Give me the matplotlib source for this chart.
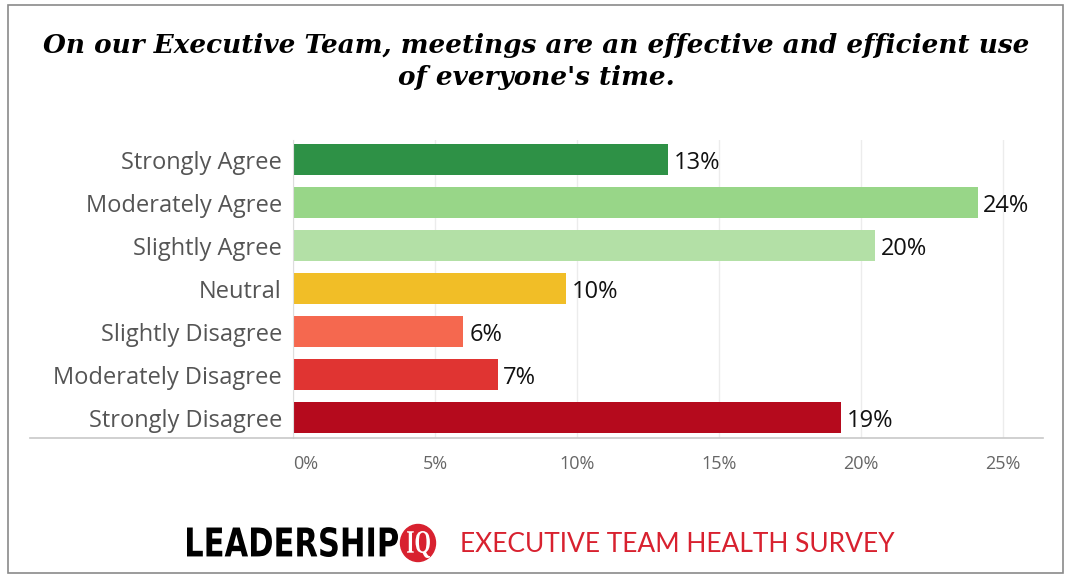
import matplotlib.pyplot as plt
from matplotlib.patches import Rectangle, Ellipse, PathPatch
from matplotlib.lines import Line2D
from matplotlib.textpath import TextPath
from matplotlib.font_manager import FontProperties
from matplotlib.transforms import Affine2D

categories = ['Strongly Agree', 'Moderately Agree', 'Slightly Agree', 'Neutral',
              'Slightly Disagree', 'Moderately Disagree', 'Strongly Disagree']
values = [13.2, 24.1, 20.5, 9.6, 6.0, 7.2, 19.3]
labels = ['13%', '24%', '20%', '10%', '6%', '7%', '19%']
colors = ['#2e9146', '#98d688', '#b3e0a6', '#f1be27', '#f5684f', '#e03432', '#b50a1d']
ticks = [0, 5, 10, 15, 20, 25]

W, H = 1070, 577
fig = plt.figure(figsize=(W / 100, H / 100), dpi=100)
fig.patch.set_facecolor('white')
to_fig = Affine2D().scale(1 / W, 1 / H) + fig.transFigure


def boxed_text(s, x0, x1, ytop, ybot, color, prop):
    # squeeze a text path into a pixel box (top-left origin)
    tp = TextPath((0, 0), s, size=1, prop=prop)
    bb = tp.get_extents()
    tr = (Affine2D().translate(-bb.x0, -bb.y0)
          .scale((x1 - x0) / bb.width, (ybot - ytop) / bb.height)
          .translate(x0, H - ybot) + to_fig)
    fig.add_artist(PathPatch(tp, transform=tr, color=color, lw=0))


# outer border
fig.add_artist(Rectangle((8 / W, 1 - 573 / H), 1055 / W, 568 / H, transform=fig.transFigure,
                         fill=False, edgecolor='#8a8a8a', linewidth=1.2))

fig.text(536 / W, 1 - 45 / H, 'On our Executive Team, meetings are an effective and efficient use',
         ha='center', va='center', fontsize=18.9, fontweight='bold', fontstyle='italic',
         family='DejaVu Serif', color='black')
fig.text(536 / W, 1 - 78 / H, "of everyone's time.",
         ha='center', va='center', fontsize=18.9, fontweight='bold', fontstyle='italic',
         family='DejaVu Serif', color='black')

ax = fig.add_axes([293 / W, 1 - 438 / H, (1043 - 293) / W, (438 - 140) / H])
y = list(range(len(categories)))
ax.barh(y, values, height=0.72, color=colors)
ax.set_ylim(6.47, -0.46)
ax.set_xlim(0, 26.4)

for yi, v, lab in zip(y, values, labels):
    ax.text(v + 0.2, yi, lab, va='center_baseline', ha='left', fontsize=17,
            family='Open Sans', color='#111111')

ax.set_yticks(y)
ax.set_yticklabels(categories, fontsize=17, family='Open Sans', color='#555555')
ax.tick_params(axis='y', length=0, pad=8)
ax.set_xticks(ticks)
ax.set_xticklabels([f'{t}%' for t in ticks], fontsize=13, family='Open Sans', color='#666666')
ax.tick_params(axis='x', length=0, pad=12)
xl = ax.get_xticklabels()
xl[0].set_horizontalalignment('left')

ax.grid(axis='x', color='#ececec', linewidth=1)
ax.set_axisbelow(True)
for s in ['top', 'right', 'bottom']:
    ax.spines[s].set_visible(False)
ax.spines['left'].set_color('#dddddd')

fig.add_artist(Line2D([30 / W, 1043 / W], [1 - 438 / H, 1 - 438 / H], transform=fig.transFigure,
                      color='#c8c8c8', linewidth=1.2))

# footer
boxed_text('LEADERSHIP', 187, 398, 527, 557, 'black',
           FontProperties(family='DejaVu Sans', weight='bold'))
fig.add_artist(Ellipse((418 / W, 1 - 543 / H), 35 / W, 37 / H, transform=fig.transFigure,
                       color='#d8212f'))
boxed_text('IQ', 407, 430, 531, 558, 'white',
           FontProperties(family='Liberation Serif', weight='bold'))
fig.text(460 / W, 1 - 545 / H, 'EXECUTIVE TEAM HEALTH SURVEY', ha='left', va='center',
         fontsize=19, family='Lato', color='#d8212f')

fig.savefig('out.png', dpi=100)
